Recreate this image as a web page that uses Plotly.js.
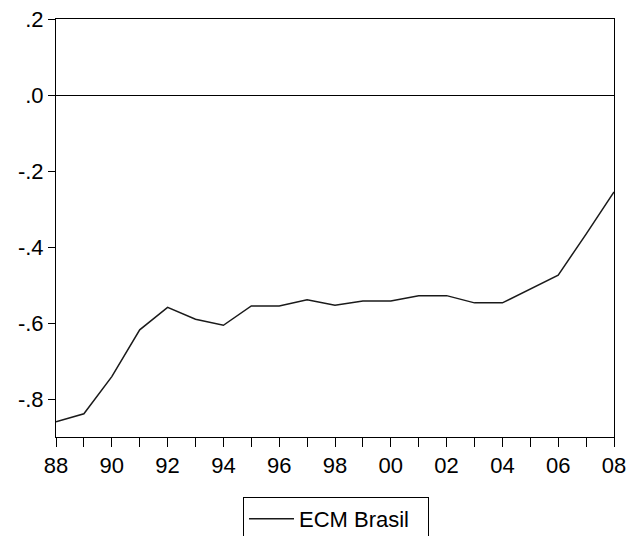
<!DOCTYPE html>
<html>
<head>
<meta charset="utf-8">
<script src="https://cdn.plot.ly/plotly-3.0.1.min.js"></script>
<style>html,body{margin:0;padding:0;background:#fff;}#chart{width:628px;height:536px;}</style>
</head>
<body>
<div id="chart"></div>
<script>
const years = [1988,1989,1990,1991,1992,1993,1994,1995,1996,1997,1998,1999,2000,2001,2002,2003,2004,2005,2006,2007,2008];
const ecmBrasil = [-0.860,-0.839,-0.741,-0.618,-0.559,-0.590,-0.606,-0.555,-0.555,-0.539,-0.553,-0.542,-0.542,-0.528,-0.528,-0.547,-0.547,-0.511,-0.474,-0.366,-0.255];
const xTickVals = [1988,1990,1992,1994,1996,1998,2000,2002,2004,2006,2008];
const xTickText = ['88','90','92','94','96','98','00','02','04','06','08'];
const yTickVals = [0.2,0,-0.2,-0.4,-0.6,-0.8];
const yTickText = ['.2','.0','-.2','-.4','-.6','-.8'];

const font = {family:'"Liberation Sans", Arial, sans-serif', size:22, color:'#000'};

Plotly.newPlot('chart', [{
  x: years, y: ecmBrasil, type:'scatter', mode:'lines', name:'ECM Brasil',
  line:{color:'#1a1a1a', width:1.5}
}], {
  width:628, height:536,
  margin:{l:56, r:14, t:19, b:99},
  paper_bgcolor:'#fff', plot_bgcolor:'#fff',
  font: font,
  showlegend:true,
  legend:{orientation:'h', xref:'container', yref:'container', x:243/628, xanchor:'left', y:1-497/536, yanchor:'top',
    bordercolor:'#000', borderwidth:1, font:font, itemwidth:45, entrywidth:124, entrywidthmode:'pixels'},
  xaxis:{range:[1988,2008], showgrid:false, zeroline:false, showline:true, mirror:true,
    linecolor:'#000', linewidth:1, ticks:'outside', ticklen:9, tickcolor:'#000',
    tickvals:xTickVals, ticktext:xTickText, automargin:false,
    minor:{dtick:1, tick0:1988, ticks:'outside', ticklen:9, tickcolor:'#000', showgrid:false}},
  yaxis:{range:[-0.9,0.2], showgrid:false, zeroline:true, zerolinecolor:'#000', zerolinewidth:1,
    showline:true, mirror:true, linecolor:'#000', linewidth:1, ticks:'outside', ticklen:7, tickcolor:'#000',
    tickvals:yTickVals, ticktext:yTickText, automargin:false}
}, {displayModeBar:false, staticPlot:true});
</script>
</body>
</html>
